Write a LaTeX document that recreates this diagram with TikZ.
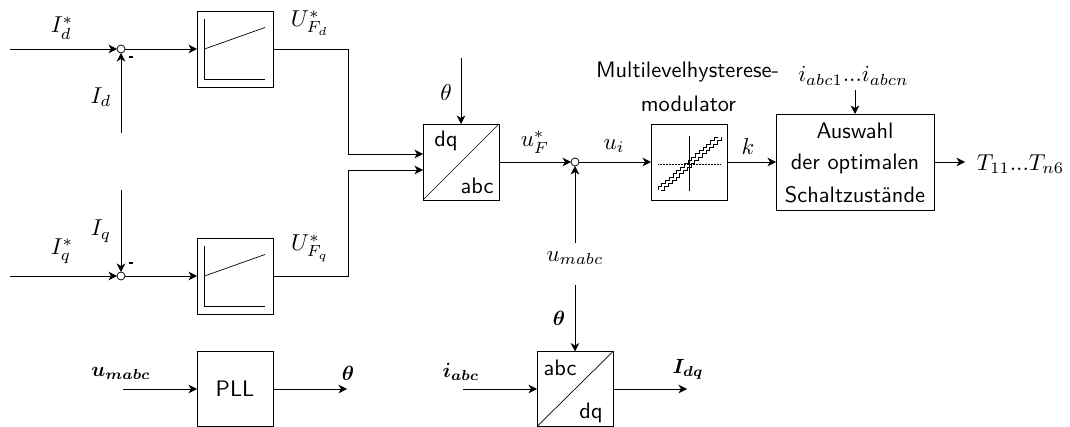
\documentclass[tikz,border=0pt]{standalone}
\usepackage{amsmath,amssymb}
\usepackage{bm}
\usetikzlibrary{arrows.meta,calc}
\tikzset{
  x=1pt,y=-1pt,
  sig/.style={-{Stealth[length=8.5pt,width=8.5pt,inset=2.5pt]},line width=0.85pt},
  blockbox/.style={draw,line width=0.85pt,minimum width=76pt,minimum height=76pt,inner sep=0pt,outer sep=0pt},
  sumpt/.style={circle,draw,fill=white,line width=0.75pt,minimum size=8pt,inner sep=0pt,outer sep=0pt},
  lab/.style={inner sep=0pt,scale=2.3,font=\fontsize{10}{12}\selectfont},
  boldlab/.style={inner sep=0pt,scale=2.06,font=\fontsize{10}{12}\selectfont},
  txt/.style={inner sep=0pt,scale=2.24,font=\sffamily\fontsize{10}{12}\selectfont}
}
\newcommand{\ctlplot}[1]{%
  \draw[line width=0.7pt] ($(#1.north west)+(7.5,8)$) |- ($(#1.south east)+(-8,-8)$);
  \draw[line width=0.7pt] ($(#1.west)+(7.5,0)$) -- ($(#1.north east)+(-8,16.5)$);
}
\newcommand{\xfmr}[3]{%
  \draw[line width=0.7pt] (#1.south west) -- (#1.north east);
  \node[txt] at ($(#1.center)+(-15,-21)$) {#2};
  \node[txt] at ($(#1.center)+(16,24)$) {#3};
}
\begin{document}
\begin{tikzpicture}
\useasboundingbox (0,0) rectangle (1070,427);
% blocks
\node[blockbox] (r1) at (235,49) {};
\node[blockbox] (r2) at (235,276) {};
\node[blockbox,minimum height=75pt] (pll) at (235,389) {};
\node[txt] at (235,389) {PLL};
\node[blockbox] (t1) at (461,162) {};
\node[blockbox] (hyst) at (689,162) {};
\node[blockbox,minimum width=158pt,minimum height=96pt] (sel) at (855,162) {};
\node[txt] at (855,131) {Auswahl};
\node[txt] at (855,164) {der optimalen};
\node[txt] at (855,195) {Schaltzust\"ande};
\node[blockbox,minimum height=75pt] (t2) at (575,389) {};
% sums
\node[sumpt] (s1) at (121,49) {};
\node[sumpt] (s2) at (121,276) {};
\node[sumpt] (s3) at (575,162) {};
% free ends
\coordinate (a1) at (10,49);
\coordinate (a2) at (10,276);
\coordinate (b1) at (121,133);
\coordinate (b2) at (121,190);
\coordinate (c1) at (461,58);
\coordinate (d1) at (575,243);
\coordinate (d2) at (575,285);
\coordinate (e1) at (855,90);
\coordinate (f1) at (965,162);
\coordinate (g1) at (123,389);
\coordinate (g2) at (347,389);
\coordinate (h1) at (463,389);
\coordinate (h2) at (687,389);
% connectors
\draw[sig] (a1) -- (s1);
\draw[sig] (a2) -- (s2);
\draw[sig] (b1) -- (s1);
\draw[sig] (b2) -- (s2);
\draw[sig] (s1) -- (r1);
\draw[sig] (s2) -- (r2);
\draw[sig] (r1.east) -- (348,49) -- (348,154) -- (423,154);
\draw[sig] (r2.east) -- (348,276) -- (348,170) -- (423,170);
\draw[sig] (c1) -- (t1);
\draw[sig] (t1) -- (s3);
\draw[sig] (s3) -- (hyst);
\draw[sig] (d1) -- (s3);
\draw[sig] (hyst) -- (sel);
\draw[sig] (e1) -- (sel);
\draw[sig] (sel) -- (f1);
\draw[sig] (g1) -- (pll);
\draw[sig] (pll) -- (g2);
\draw[sig] (d2) -- (t2);
\draw[sig] (h1) -- (t2);
\draw[sig] (t2) -- (h2);
% block contents
\ctlplot{r1}
\ctlplot{r2}
\xfmr{t1}{dq}{abc}
\xfmr{t2}{abc}{dq}
\draw[line width=0.7pt] (689,136) -- (689,191);
\draw[line width=0.5pt,densely dotted] (658,164) -- (720,164);
\draw[line width=0.55pt] (658,190)
  \foreach \i in {0,...,7}{ -- ++(0,-3.3) -- ++(3.75,0) -- ++(0,-3.3) -- ++(3.75,0) };
\draw[line width=0.55pt] (661,190)
  \foreach \i in {0,...,7}{ -- ++(3.75,0) -- ++(0,-3.3) -- ++(3.75,0) -- ++(0,-3.3) };
% labels
\node[lab] at (62,28) {$I_d^*$};
\node[lab] at (101,97) {$I_d$};
\node[lab] at (62,251) {$I_q^*$};
\node[lab] at (101,231) {$I_q$};
\node[inner sep=0pt,fill,minimum width=4.5pt,minimum height=1.5pt] (m1) at (131,57) {};
\node[inner sep=0pt,fill,minimum width=4.5pt,minimum height=1.5pt] (m2) at (131,263) {};
\node[lab] at (310,23) {$U_{F_d}^*$};
\node[lab] at (310,248) {$U_{F_q}^*$};
\node[lab] at (446,93) {$\theta$};
\node[lab] at (535,142) {$u_F^*$};
\node[lab] at (614,146) {$u_i$};
\node[lab] at (748,147) {$k$};
\node[lab] at (575,258) {$u_{mabc}$};
\node[lab] at (853.5,76) {$i_{abc1}...i_{abcn}$};
\node[lab] at (1020.5,164) {$T_{11}...T_{n6}$};
\node[txt] at (687.5,72) {Multilevelhysterese-};
\node[txt] at (688.5,104) {modulator};
\node[boldlab] at (121,373) {$\bm{u_{mabc}}$};
\node[boldlab] at (348,373) {$\bm{\theta}$};
\node[boldlab] at (559,318) {$\bm{\theta}$};
\node[boldlab] at (461,372) {$\bm{i_{abc}}$};
\node[boldlab] at (688,369) {$\bm{I_{dq}}$};
\end{tikzpicture}
\end{document}
